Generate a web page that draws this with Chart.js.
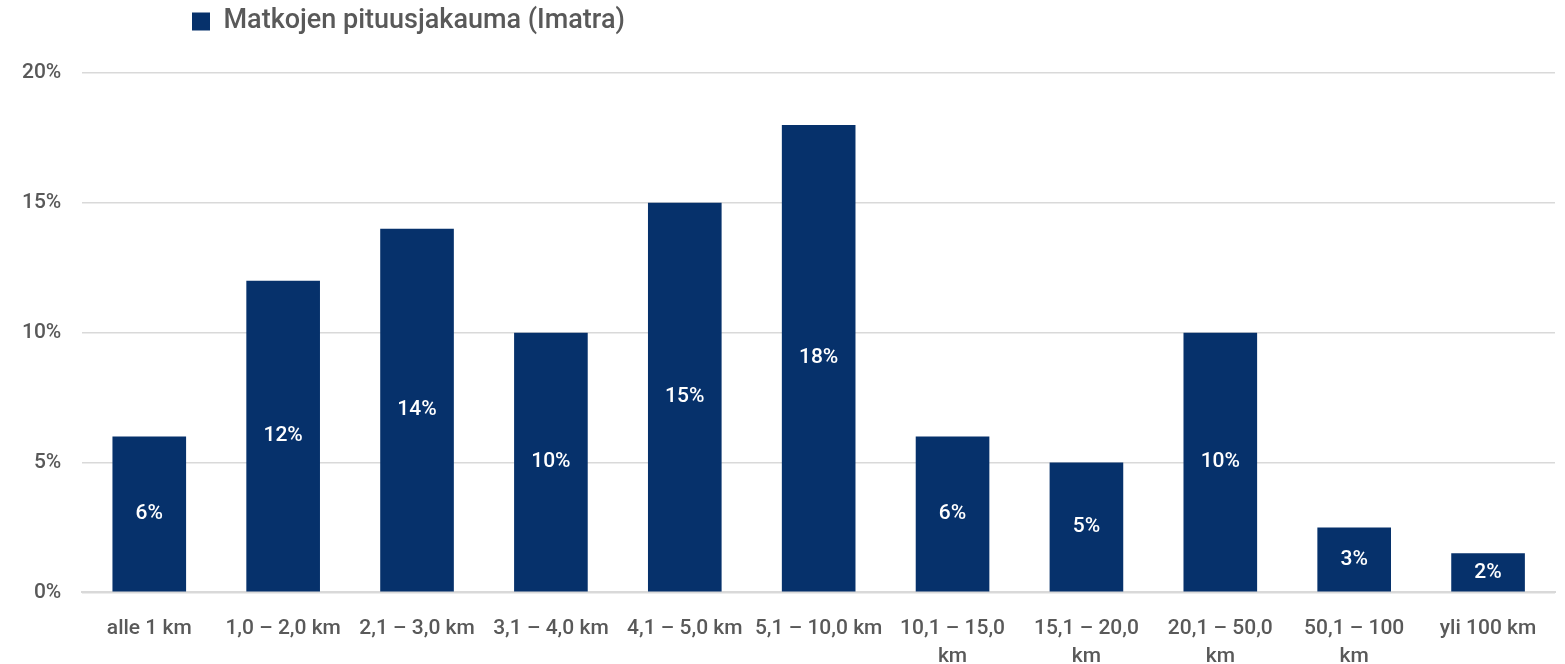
<!DOCTYPE html>
<html>
<head>
<meta charset="utf-8">
<script src="https://cdn.jsdelivr.net/npm/chart.js@4"></script>
<style>
html,body{margin:0;padding:0;background:#fff;}
#wrap{width:1565px;height:664px;}
</style>
</head>
<body>
<div id="wrap"><canvas id="c" width="1565" height="664"></canvas></div>
<script>
const categories = [
  "alle 1 km",
  "1,0 – 2,0 km",
  "2,1 – 3,0 km",
  "3,1 – 4,0 km",
  "4,1 – 5,0 km",
  "5,1 – 10,0 km",
  ["10,1 – 15,0", "km"],
  ["15,1 – 20,0", "km"],
  ["20,1 – 50,0", "km"],
  ["50,1 – 100", "km"],
  "yli 100 km"
];
const seriesName = "Matkojen pituusjakauma (Imatra)";
const values = [6, 12, 14, 10, 15, 18, 6, 5, 10, 2.5, 1.5];
const yTicks = [0, 5, 10, 15, 20];

const FONT = "Roboto, 'DejaVu Sans', sans-serif";
const TEXT = "#595959";
const BAR = "#06316B";

const barLabels = {
  id: 'barLabels',
  afterDatasetsDraw(chart) {
    const ctx = chart.ctx;
    const meta = chart.getDatasetMeta(0);
    ctx.save();
    ctx.fillStyle = '#ffffff';
    ctx.font = "500 21px " + FONT;
    ctx.textAlign = 'center';
    ctx.textBaseline = 'middle';
    meta.data.forEach((el, i) => {
      const v = chart.data.datasets[0].data[i];
      const y = (el.y + el.base) / 2;
      ctx.fillText(Math.round(v) + '%', el.x, y);
    });
    ctx.restore();
  }
};

const legendTweak = {
  id: 'legendTweak',
  beforeInit(chart) {
    const lg = chart.legend;
    if (!lg) return;
    const origFit = lg.fit.bind(lg);
    lg.fit = function () { origFit(); this.height += 28; };
  },
  afterLayout(chart) {
    const lg = chart.legend;
    if (!lg) return;
    const dx = 184 - lg.left;
    lg.left += dx; lg.right += dx;
    if (lg.legendHitBoxes) lg.legendHitBoxes.forEach(b => { b.left += dx; });
  }
};

new Chart(document.getElementById('c'), {
  type: 'bar',
  data: {
    labels: categories,
    datasets: [{
      label: seriesName,
      data: values,
      backgroundColor: BAR,
      borderWidth: 0,
      categoryPercentage: 1,
      barPercentage: 0.55
    }]
  },
  options: {
    responsive: false,
    animation: false,
    devicePixelRatio: 1,
    layout: { padding: { left: 1, right: 10, top: 0, bottom: -29 } },
    plugins: {
      legend: {
        display: true,
        position: 'top',
        align: 'start',
        labels: {
          color: TEXT,
          font: { family: FONT, size: 27, weight: '500' },
          boxWidth: 18,
          boxHeight: 18,
          padding: 8
        }
      },
      tooltip: { enabled: false }
    },
    scales: {
      x: {
        grid: { display: false, drawTicks: false },
        border: { display: true, color: '#d9d9d9', width: 2 },
        ticks: {
          color: TEXT,
          font: { family: FONT, size: 21, weight: '500', lineHeight: 1.35 },
          maxRotation: 0,
          autoSkip: false,
          padding: 22
        }
      },
      y: {
        min: 0,
        max: 20,
        afterBuildTicks(axis) { axis.ticks = yTicks.map(v => ({ value: v })); },
        grid: { color: '#d9d9d9', lineWidth: 1.5, drawTicks: false },
        border: { display: false },
        ticks: {
          color: TEXT,
          font: { family: FONT, size: 21, weight: '500' },
          padding: 21,
          callback: v => v + '%'
        }
      }
    }
  },
  plugins: [barLabels, legendTweak]
});
</script>
</body>
</html>
